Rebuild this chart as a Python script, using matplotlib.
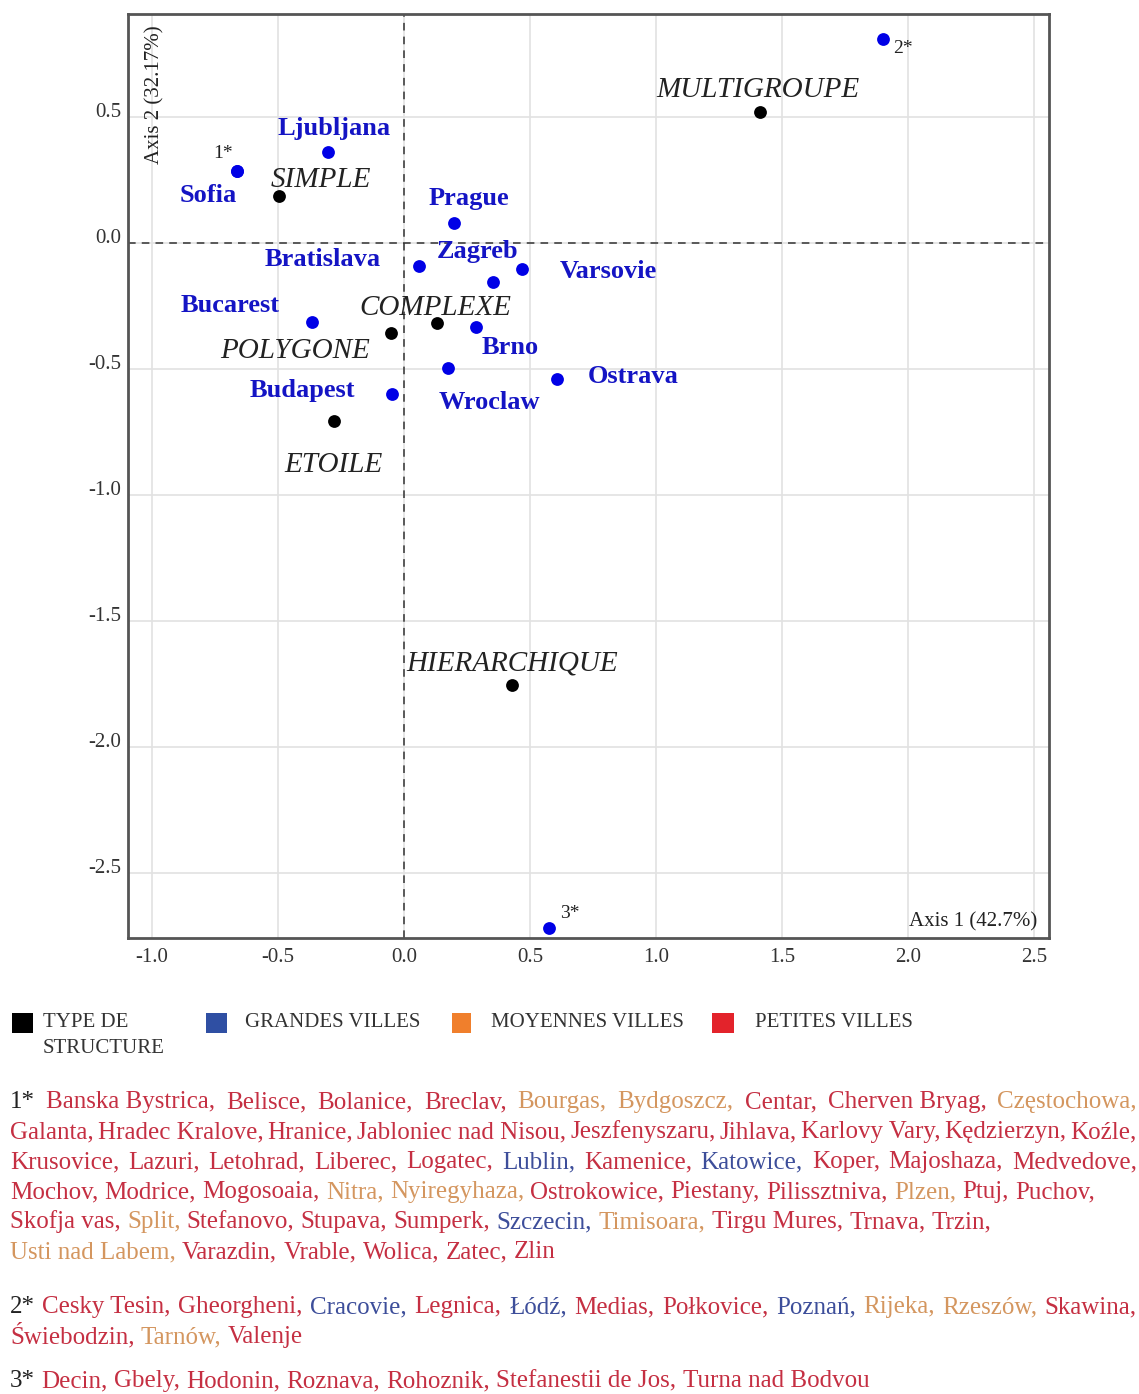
import numpy as np
import matplotlib
matplotlib.use("Agg")
import matplotlib.pyplot as plt
from matplotlib.patches import Rectangle

W, H = 1139, 1394
DPI = 100

plt.rcParams['font.family'] = ['Liberation Serif', 'DejaVu Serif']
plt.rcParams['axes.unicode_minus'] = False

# structure types (black points)
struct_names = ["MULTIGROUPE", "SIMPLE", "COMPLEXE", "POLYGONE", "ETOILE", "HIERARCHIQUE"]
struct_x = [1.413, -0.495, 0.132, -0.053, -0.278, 0.429]
struct_y = [0.521, 0.187, -0.319, -0.356, -0.705, -1.754]

# big cities (blue points)
city_names = ["Ljubljana", "Sofia", "Prague", "Bratislava", "Zagreb", "Varsovie",
              "Bucarest", "Brno", "Wroclaw", "Ostrava", "Budapest"]
city_x = [-0.300, -0.664, 0.198, 0.061, 0.354, 0.468, -0.366, 0.286, 0.176, 0.606, -0.048]
city_y = [0.362, 0.287, 0.081, -0.090, -0.156, -0.102, -0.313, -0.333, -0.495, -0.540, -0.598]

# groups of small towns (blue points)
group_marks = ["1*", "2*", "3*"]
group_x = [-0.664, 1.900, 0.575]
group_y = [0.287, 0.808, -2.718]

x_ticks = [-1.0, -0.5, 0.0, 0.5, 1.0, 1.5, 2.0, 2.5]
y_ticks = [-2.5, -2.0, -1.5, -1.0, -0.5, 0.0, 0.5]

legend_labels = ["TYPE DE\nSTRUCTURE", "GRANDES VILLES", "MOYENNES VILLES", "PETITES VILLES"]

# footnote lists: (town, size class) G = grande, M = moyenne, P = petite
group1 = [("Banska Bystrica", "P"), ("Belisce", "P"), ("Bolanice", "P"), ("Breclav", "P"),
          ("Bourgas", "M"), ("Bydgoszcz", "M"), ("Centar", "P"), ("Cherven Bryag", "P"),
          ("Częstochowa", "M"),
          ("Galanta", "P"), ("Hradec Kralove", "P"), ("Hranice", "P"), ("Jabloniec nad Nisou", "P"),
          ("Jeszfenyszaru", "P"), ("Jihlava", "P"), ("Karlovy Vary", "P"), ("Kędzierzyn", "P"),
          ("Koźle", "P"),
          ("Krusovice", "P"), ("Lazuri", "P"), ("Letohrad", "P"), ("Liberec", "P"), ("Logatec", "P"),
          ("Lublin", "G"), ("Kamenice", "P"), ("Katowice", "G"), ("Koper", "P"), ("Majoshaza", "P"),
          ("Medvedove", "P"),
          ("Mochov", "P"), ("Modrice", "P"), ("Mogosoaia", "P"), ("Nitra", "M"), ("Nyiregyhaza", "M"),
          ("Ostrokowice", "P"), ("Piestany", "P"), ("Pilissztniva", "P"), ("Plzen", "M"),
          ("Ptuj", "P"), ("Puchov", "P"),
          ("Skofja vas", "P"), ("Split", "M"), ("Stefanovo", "P"), ("Stupava", "P"), ("Sumperk", "P"),
          ("Szczecin", "G"), ("Timisoara", "M"), ("Tirgu Mures", "P"), ("Trnava", "P"), ("Trzin", "P"),
          ("Usti nad Labem", "M"), ("Varazdin", "P"), ("Vrable", "P"), ("Wolica", "P"),
          ("Zatec", "P"), ("Zlin", "P")]
group2 = [("Cesky Tesin", "P"), ("Gheorgheni", "P"), ("Cracovie", "G"), ("Legnica", "P"),
          ("Łódź", "G"), ("Medias", "P"), ("Połkovice", "P"), ("Poznań", "G"), ("Rijeka", "M"),
          ("Rzeszów", "M"), ("Skawina", "P"),
          ("Świebodzin", "P"), ("Tarnów", "M"), ("Valenje", "P")]
group3 = [("Decin", "P"), ("Gbely", "P"), ("Hodonin", "P"), ("Roznava", "P"), ("Rohoznik", "P"),
          ("Stefanestii de Jos", "P"), ("Turna nad Bodvou", "P")]

# layout / styling
SQUARE_COL = ["black", "#2f4fa3", "#f07f2c", "#e3232b"]
TEXT_COL = {"G": "#3d4e9a", "M": "#d4965f", "P": "#c52f42"}
BLUE = "#0000e6"
LABEL_BLUE = "#1414c4"

struct_off = {"MULTIGROUPE": (-2, 15, "center"), "SIMPLE": (-9, 9, "left"),
              "COMPLEXE": (-2, 8, "center"), "POLYGONE": (-21, -25, "right"),
              "ETOILE": (0, -51, "center"), "HIERARCHIQUE": (0, 15, "center")}
city_off = {"Ljubljana": (6, 17, "center"), "Sofia": (0, -31, "right"),
            "Prague": (15, 18, "center"), "Bratislava": (-39, 0, "right"),
            "Zagreb": (-16, 24, "center"), "Varsovie": (38, -9, "left"),
            "Bucarest": (-32, 10, "right"), "Brno": (6, -27, "left"),
            "Wroclaw": (-10, -41, "left"), "Ostrava": (31, -4, "left"),
            "Budapest": (-37, -3, "right")}
group_off = {"1*": (-4, 13, "right"), "2*": (10, -14, "left"), "3*": (11, 10, "left")}

fig = plt.figure(figsize=(W / DPI, H / DPI), dpi=DPI)
ax = fig.add_axes([128 / W, 1 - 938 / H, (1049 - 128) / W, (938 - 14) / H])
ax.set_xlim(-1.095, 2.560)
ax.set_ylim(-2.758, 0.909)

ax.set_xticks(x_ticks)
ax.set_yticks(y_ticks)
ax.set_xticklabels([f"{v:.1f}" for v in x_ticks])
ax.set_yticklabels([f"{v:.1f}" for v in y_ticks])
ax.tick_params(length=0, labelsize=15, labelcolor="#333333")
ax.tick_params(axis="x", pad=7)
ax.tick_params(axis="y", pad=5)
for lab in ax.get_yticklabels():
    lab.set_verticalalignment("baseline")
ax.grid(True, color="#e2e2e2", lw=1.2, zorder=0)
ax.axhline(0, color="#333333", lw=1.1, ls=(0, (5, 4)), zorder=2)
ax.axvline(0, color="#333333", lw=1.1, ls=(0, (5, 4)), zorder=2)
for sp in ax.spines.values():
    sp.set_color("#555555")
    sp.set_linewidth(2.0)

ax.scatter(struct_x, struct_y, s=85, color="black", zorder=3, linewidths=0)
ax.scatter(city_x, city_y, s=85, color=BLUE, zorder=3, linewidths=0)
ax.scatter(group_x, group_y, s=85, color=BLUE, zorder=3, linewidths=0)

for n, x, y in zip(struct_names, struct_x, struct_y):
    dx, dy, ha = struct_off[n]
    ax.annotate(n, (x, y), xytext=(dx, dy), textcoords="offset pixels", ha=ha,
                va="baseline", fontsize=21, fontstyle="italic", color="#222222")
for n, x, y in zip(city_names, city_x, city_y):
    dx, dy, ha = city_off[n]
    ax.annotate(n, (x, y), xytext=(dx, dy), textcoords="offset pixels", ha=ha,
                va="baseline", fontsize=19, fontweight="bold", color=LABEL_BLUE)
for n, x, y in zip(group_marks, group_x, group_y):
    dx, dy, ha = group_off[n]
    ax.annotate(n, (x, y), xytext=(dx, dy), textcoords="offset pixels", ha=ha,
                va="baseline", fontsize=14, color="#222222")

ax.text(0.029, 0.988, "Axis 2 (32.17%)", transform=ax.transAxes, rotation=90,
        ha="center", va="top", fontsize=15, color="#222222")
ax.text(0.987, 0.013, "Axis 1 (42.7%)", transform=ax.transAxes,
        ha="right", va="baseline", fontsize=15, color="#222222")

# legend
LEG_SQ = [(12, 21), (206, 21), (452, 19), (712, 22)]
LEG_TX = [43, 245, 491, 755]
for (sx, sw), tx, col, lab in zip(LEG_SQ, LEG_TX, SQUARE_COL, legend_labels):
    fig.add_artist(Rectangle((sx / W, 1 - 1033 / H), sw / W, 20 / H,
                             transform=fig.transFigure, color=col, lw=0))
    for i, part in enumerate(lab.split("\n")):
        fig.text(tx / W, 1 - (1027 + 26 * i) / H, part, fontsize=15,
                 color="#333333", va="baseline", ha="left")

# footnote (coloured, partly justified lines)
FS = 18
renderer = fig.canvas.get_renderer()


def width_of(s):
    t = fig.text(0, 0, s, fontsize=FS)
    w = t.get_window_extent(renderer=renderer).width
    t.remove()
    return w


SPACE = width_of("n n") - width_of("nn")


def draw_line(pieces, x0, y, right=None):
    widths = [width_of(p[0]) for p in pieces]
    gap = SPACE
    if right is not None and len(pieces) > 1:
        gap = (right - x0 - sum(widths)) / (len(pieces) - 1)
    x = x0
    for (s, c), w in zip(pieces, widths):
        fig.text(x / W, 1 - y / H, s, fontsize=FS, color=c, va="baseline", ha="left")
        x += w + gap


def make_pieces(towns, last_in_group):
    out = []
    for i, (name, cls) in enumerate(towns):
        sep = "" if (last_in_group and i == len(towns) - 1) else ","
        out.append((name + sep, TEXT_COL[cls]))
    return out


footnotes = [("1*", group1, [9, 9, 11, 11, 10, 6], [True, True, True, False, False, False], 1108),
             ("2*", group2, [11, 3], [True, False], 1313),
             ("3*", group3, [7], [False], 1387)]
for mark, towns, counts, justify, y0 in footnotes:
    start = 0
    for li, (cnt, just) in enumerate(zip(counts, justify)):
        chunk = towns[start:start + cnt]
        start += cnt
        pieces = make_pieces(chunk, start == len(towns))
        if li == 0:
            pieces = [(mark, "#222222")] + pieces
        draw_line(pieces, 10, y0 + 30 * li, right=1137 if just else None)

fig.savefig("out.png", dpi=DPI)
